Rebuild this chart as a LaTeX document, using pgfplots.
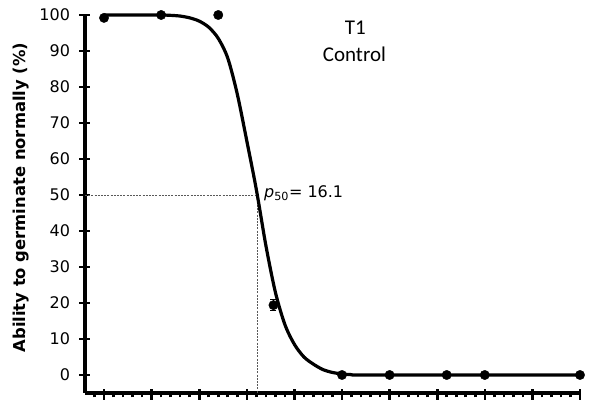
\documentclass[border=0pt]{standalone}
\usepackage{fontspec}
\setmainfont{DejaVu Sans}
\newfontfamily\calib{Carlito}
\usepackage{pgfplots}
\usepackage{pgfplotstable}
\pgfplotsset{compat=1.18}

% fitted curve
\pgfplotstableread{
x y
0 100
2 100
4 100
6 100
7 99.9
8 99.7
9 99.2
10 98.3
11 96.6
12 93.5
13 88
14 78
15 65
16 51.5
17 36
18 23
19 14
20 8.5
21 5
22 3
23 1.5
24 0.7
25 0.3
26 0.1
28 0
50 0
}\fitcurve

% observed points
\pgfplotstableread{
x y e
0 99.2 0
6 100 0
12 100 0
17.8 19.4 1.5
25 0 0
30 0 0
36 0 0
40 0 0
50 0 0
}\obs

\begin{document}
\begin{tikzpicture}
\useasboundingbox (-85pt,-10pt) rectangle (505pt,393pt);
\begin{axis}[
  at={(0,0)}, anchor=south west,
  scale only axis, width=495pt, height=378pt,
  xmin=-2, xmax=50, ymin=-5, ymax=100,
  clip=false,
  axis lines*=left,
  axis line style={line width=3.6pt, -},
  xtick={0,5,...,50}, xticklabels={},
  minor xtick={-1,0,...,50},
  ytick={0,10,...,100},
  tick align=center,
  major tick length=11pt, minor tick length=6pt,
  every tick/.style={black, line width=2.6pt},
  xtick style={yshift=-1.5pt},
  ticklabel style={font=\fontsize{16}{19}\selectfont},
  /pgf/number format/assume math mode=true,
  yticklabel style={xshift=-6pt},
  ylabel={\bfseries Ability to germinate normally (\%)},
  ylabel style={font=\fontsize{16.4}{19}\selectfont, at={(axis description cs:-0.129,0.517)}, anchor=center},
]
\addplot[gray!70!black, line width=0.8pt, dash pattern=on 2pt off 1.2pt] coordinates {(-2,50) (16.1,50) (16.1,-5)};
\addplot[black, line width=3.2pt, smooth] table[x=x, y=y] {\fitcurve};
\addplot[black, only marks, mark=*, mark size=4.7pt,
  error bars/.cd, y dir=both, y explicit,
  error bar style={line width=1.2pt},
  error mark options={rotate=90, mark size=3pt, line width=1.2pt}]
  table[x=x, y=y, y error=e] {\obs};
\node[font=\calib\fontsize{21}{25}\selectfont] at (axis cs:26.4,96.4) {T1};
\node[font=\calib\fontsize{21}{25}\selectfont] at (axis cs:26.3,89.2) {Control};
\node[anchor=base west, inner sep=0pt, font=\fontsize{16}{19}\selectfont] at (axis cs:16.8,49.2) {\textit{p}\textsubscript{50}= 16.1};
\end{axis}
\end{tikzpicture}
\end{document}
